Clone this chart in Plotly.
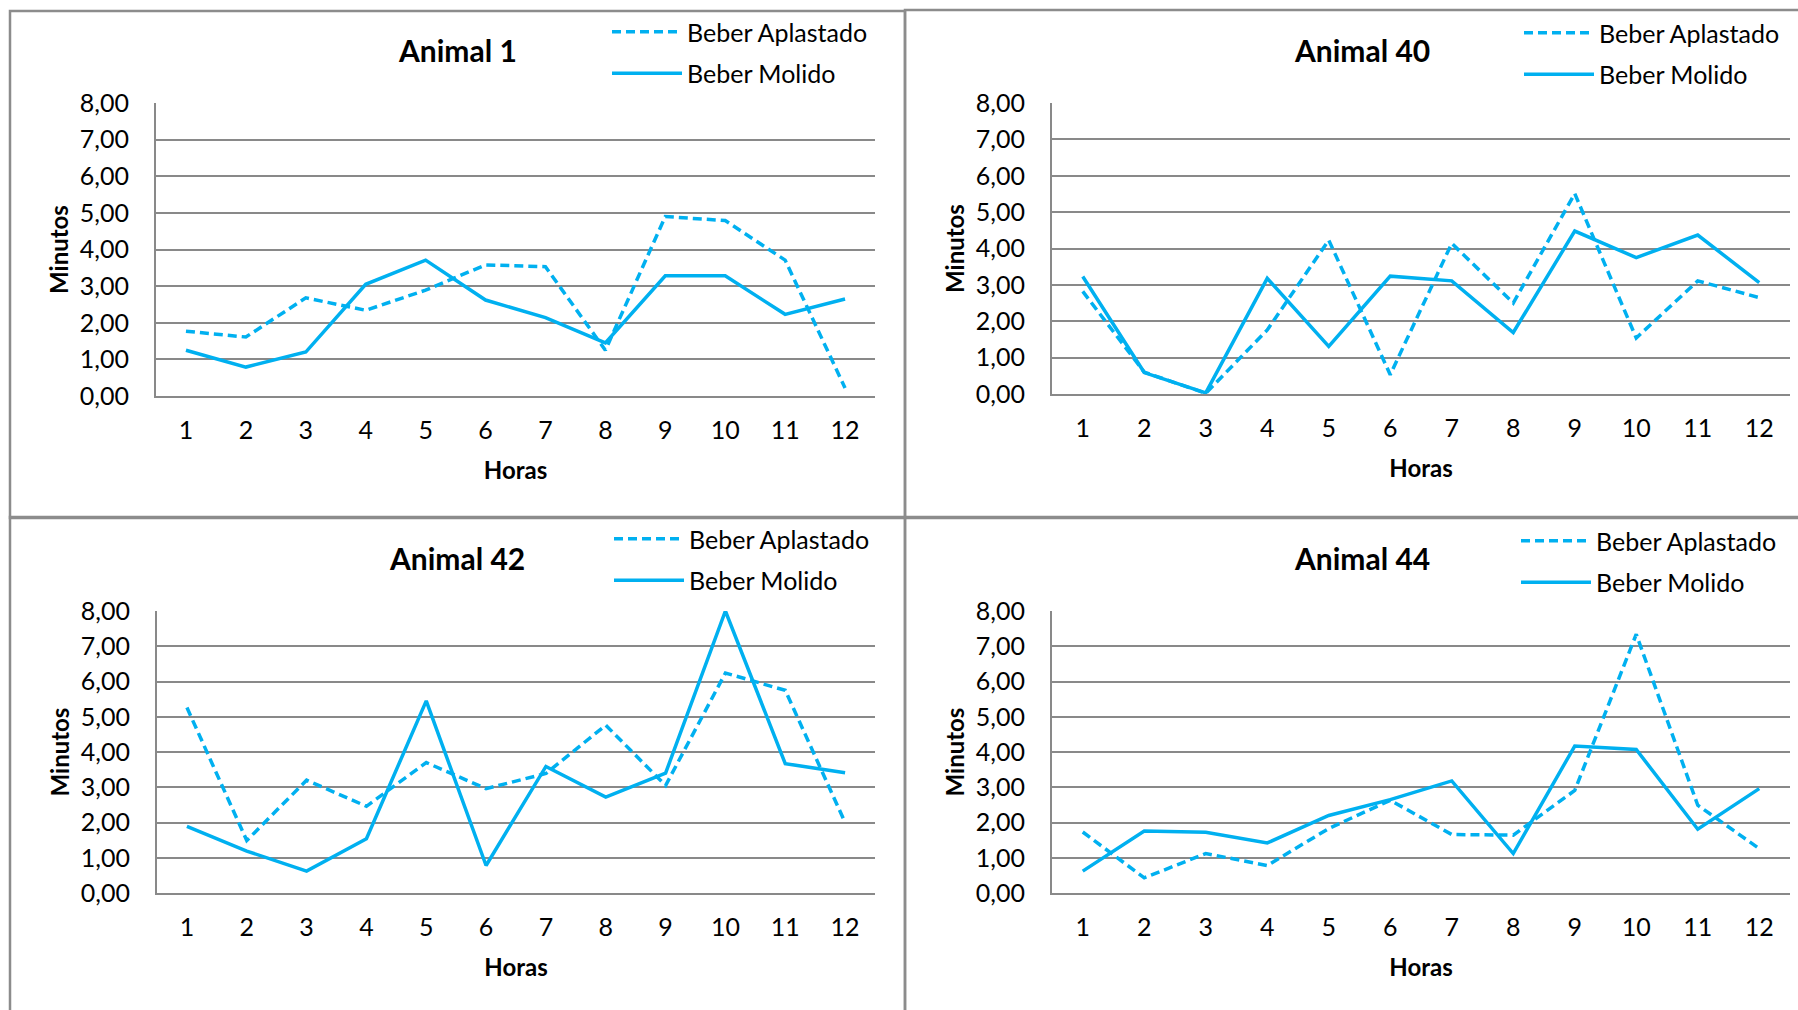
import plotly.graph_objects as go

# ---------------- data ----------------
horas = list(range(1, 13))
hora_labels = [str(h) for h in horas]
series_names = ["Beber Aplastado", "Beber Molido"]
panel_titles = ["Animal 1", "Animal 40", "Animal 42", "Animal 44"]

animal1_aplastado = [1.77, 1.61, 2.68, 2.34, 2.89, 3.58, 3.53, 1.25, 4.90, 4.79, 3.71, 0.22]
animal1_molido = [1.25, 0.79, 1.20, 3.05, 3.71, 2.62, 2.14, 1.45, 3.28, 3.28, 2.23, 2.65]

animal40_aplastado = [2.82, 0.60, 0.02, 1.76, 4.23, 0.53, 4.14, 2.50, 5.51, 1.54, 3.11, 2.65]
animal40_molido = [3.23, 0.59, 0.03, 3.18, 1.31, 3.24, 3.11, 1.69, 4.48, 3.75, 4.37, 3.06]

animal42_aplastado = [5.26, 1.49, 3.20, 2.46, 3.70, 2.96, 3.39, 4.76, 3.05, 6.24, 5.75, 2.00]
animal42_molido = [1.89, 1.19, 0.62, 1.54, 5.45, 0.78, 3.59, 2.72, 3.40, 8.00, 3.67, 3.41]

animal44_aplastado = [1.73, 0.43, 1.12, 0.78, 1.83, 2.63, 1.66, 1.64, 2.91, 7.34, 2.49, 1.26]
animal44_molido = [0.62, 1.76, 1.72, 1.42, 2.20, 2.65, 3.18, 1.12, 4.17, 4.07, 1.81, 2.96]

aplastado_series = [animal1_aplastado, animal40_aplastado, animal42_aplastado, animal44_aplastado]
molido_series = [animal1_molido, animal40_molido, animal42_molido, animal44_molido]

y_ticks = [0, 1, 2, 3, 4, 5, 6, 7, 8]

# ---------------- layout (pixels) ----------------
W, H = 1798, 1010
FONT = "Lato, Carlito, 'Open Sans', sans-serif"
BLUE = "#00B0F0"
GRID = "#898989"
BORDER = "#8C8C8C"

def px(x):
    return x / W

def py(y):
    return 1 - y / H

# plot area (left, right, top, bottom), title centre, legend top-left, panel box
panel_layout = [
    dict(plot=(156, 875, 103, 396), title=(457, 50), legend=(607, 9), box=(10, 11, 905, 518)),
    dict(plot=(1052, 1790, 103, 394), title=(1362, 50), legend=(1519, 10), box=(905, 10, 1840, 518)),
    dict(plot=(157, 875, 611, 893), title=(457, 558), legend=(609, 516), box=(10, 517, 905, 1050)),
    dict(plot=(1052, 1790, 611, 893), title=(1362, 558), legend=(1516, 518), box=(905, 517, 1840, 1050)),
]

fig = go.Figure()
layout_updates = {}
annotations = []
shapes = []

for i in range(4):
    sfx = "" if i == 0 else str(i + 1)
    pl = panel_layout[i]
    l, r, t, b = pl["plot"]
    legend_id = "legend" + sfx

    fig.add_trace(go.Scatter(
        x=horas, y=aplastado_series[i], mode="lines", name=series_names[0],
        line=dict(color=BLUE, width=3.5, dash="9px,5px"),
        xaxis="x" + sfx, yaxis="y" + sfx, legend=legend_id, legendgroup="a",
    ))
    fig.add_trace(go.Scatter(
        x=horas, y=molido_series[i], mode="lines", name=series_names[1],
        line=dict(color=BLUE, width=3.5),
        xaxis="x" + sfx, yaxis="y" + sfx, legend=legend_id, legendgroup="b",
    ))

    layout_updates["xaxis" + sfx] = dict(
        domain=[px(l), px(r)], anchor="y" + sfx, range=[0.5, 12.5],
        tickmode="array", tickvals=horas, ticktext=hora_labels,
        showgrid=False, zeroline=False, showline=True, linecolor=GRID, linewidth=2,
        ticks="", ticklabelstandoff=11,
        tickfont=dict(family=FONT, size=25, color="#000"),
        title=dict(text="<b>Horas</b>", font=dict(family=FONT, size=24, color="#000"), standoff=19),
        fixedrange=True,
    )
    layout_updates["yaxis" + sfx] = dict(
        domain=[py(b), py(t)], anchor="x" + sfx, range=[0, 8],
        tickmode="array", tickvals=y_ticks, tickformat=".2f",
        showgrid=True, gridcolor=GRID, gridwidth=2, zeroline=False,
        showline=True, linecolor=GRID, linewidth=2, mirror=False,
        ticks="", ticklabelstandoff=20,
        tickfont=dict(family=FONT, size=25, color="#000"),
        title=dict(text="<b>Minutos</b>", font=dict(family=FONT, size=24, color="#000"), standoff=4),
        fixedrange=True,
    )
    lx, ly = pl["legend"]
    layout_updates[legend_id] = dict(
        x=px(lx), y=py(ly), xanchor="left", yanchor="top",
        bgcolor="rgba(0,0,0,0)", borderwidth=0,
        font=dict(family=FONT, size=25, color="#000"),
        itemwidth=70, traceorder="grouped", tracegroupgap=6,
    )
    tx, ty = pl["title"]
    annotations.append(dict(
        text="<b>" + panel_titles[i] + "</b>", x=px(tx), y=py(ty),
        xref="paper", yref="paper", xanchor="center", yanchor="middle",
        showarrow=False, font=dict(family=FONT, size=30, color="#000"),
    ))
    bx0, by0, bx1, by1 = pl["box"]
    shapes.append(dict(
        type="rect", xref="paper", yref="paper",
        x0=px(bx0), y0=py(by1), x1=px(bx1), y1=py(by0),
        line=dict(color=BORDER, width=2.5), fillcolor="rgba(0,0,0,0)", layer="below",
    ))

fig.update_layout(
    width=W, height=H, margin=dict(l=0, r=0, t=0, b=0, autoexpand=False),
    paper_bgcolor="white", plot_bgcolor="white",
    separators=",.", showlegend=True,
    annotations=annotations, shapes=shapes,
    font=dict(family=FONT, color="#000"),
    **layout_updates,
)

fig.write_html("out.html", config=dict(displayModeBar=False))
